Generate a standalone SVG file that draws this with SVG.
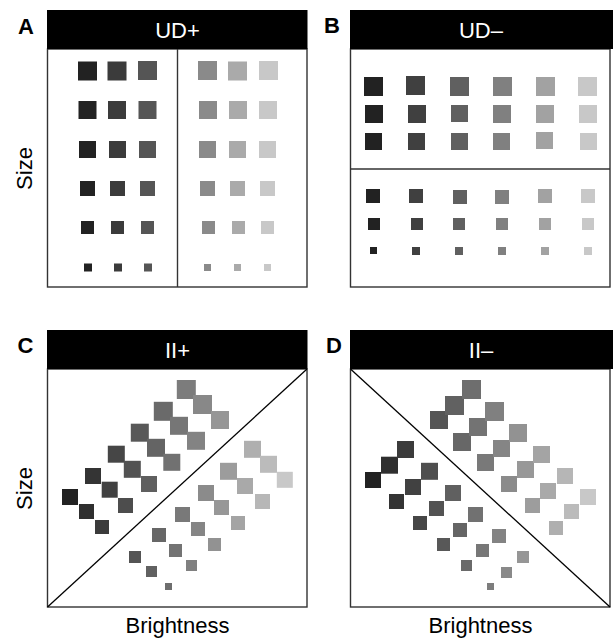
<svg xmlns="http://www.w3.org/2000/svg" width="613" height="638" viewBox="0 0 613 638">
  <style>
    .hdr { fill: #000; }
    .hdr-t { fill: #fff; font-family: "Liberation Sans", Arial, sans-serif; font-size: 22px; text-anchor: middle; }
    .tag { fill: #000; font-family: "Liberation Sans", Arial, sans-serif; font-size: 22px; font-weight: bold; }
    .axis { fill: #000; font-family: "Liberation Sans", Arial, sans-serif; font-size: 22px; text-anchor: middle; }
    .box { fill: #fff; stroke: #333; stroke-width: 1.4; }
    .rule { stroke: #333; stroke-width: 1.4; fill: none; }
    .diag { stroke: #000; stroke-width: 1.3; fill: none; }
    .a1 { fill: #222; } .a2 { fill: #3b3b3b; } .a3 { fill: #555; }
    .a4 { fill: #8a8a8a; } .a5 { fill: #aaa; } .a6 { fill: #c8c8c8; }
    .b1 { fill: #222; } .b2 { fill: #404040; } .b3 { fill: #606060; }
    .b4 { fill: #808080; } .b5 { fill: #a2a2a2; } .b6 { fill: #c8c8c8; }
  </style>

  <!-- Panel A: UD+ -->
  <g id="panelA">
    <rect class="box" x="47.5" y="49" width="259.5" height="238"/>
    <rect class="hdr" x="47" y="10" width="260.5" height="39"/>
    <text class="hdr-t" x="177.5" y="37.5">UD+</text>
    <text class="tag" x="18" y="33.5">A</text>
    <text class="axis" transform="translate(31.5,168.5) rotate(-90)">Size</text>
    <line class="rule" x1="177.5" y1="49" x2="177.5" y2="287"/>
    <g>
      <rect class="a1" x="78" y="61.5" width="19" height="19"/><rect class="a2" x="107.5" y="61.5" width="19" height="19"/><rect class="a3" x="138" y="61" width="19" height="19"/>
      <rect class="a4" x="198" y="61" width="19" height="19"/><rect class="a5" x="228" y="61.5" width="19" height="19"/><rect class="a6" x="259" y="61" width="19" height="19"/>
      <rect class="a1" x="78.5" y="101" width="18" height="18"/><rect class="a2" x="108" y="101" width="18" height="18"/><rect class="a3" x="138.5" y="101" width="18" height="18"/>
      <rect class="a4" x="199" y="101" width="18" height="18"/><rect class="a5" x="229" y="101" width="18" height="18"/><rect class="a6" x="259" y="101" width="18" height="18"/>
      <rect class="a1" x="79" y="141" width="17" height="17"/><rect class="a2" x="109" y="141" width="17" height="17"/><rect class="a3" x="139" y="141" width="17" height="17"/>
      <rect class="a4" x="199" y="141" width="17" height="17"/><rect class="a5" x="229" y="141" width="17" height="17"/><rect class="a6" x="259" y="141" width="17" height="17"/>
      <rect class="a1" x="80" y="181" width="15" height="15"/><rect class="a2" x="110" y="181" width="15" height="15"/><rect class="a3" x="140" y="181" width="15" height="15"/>
      <rect class="a4" x="200" y="181" width="15" height="15"/><rect class="a5" x="230" y="181" width="15" height="15"/><rect class="a6" x="260" y="181" width="15" height="15"/>
      <rect class="a1" x="81" y="221" width="13" height="13"/><rect class="a2" x="111" y="221" width="13" height="13"/><rect class="a3" x="141" y="221" width="13" height="13"/>
      <rect class="a4" x="202" y="221" width="13" height="13"/><rect class="a5" x="232" y="221" width="13" height="13"/><rect class="a6" x="261" y="221" width="13" height="13"/>
      <rect class="a1" x="84" y="263.5" width="8" height="8"/><rect class="a2" x="114" y="263.5" width="8" height="8"/><rect class="a3" x="144" y="263.5" width="8" height="8"/>
      <rect class="a4" x="204" y="264" width="7" height="7"/><rect class="a5" x="234" y="264" width="7" height="7"/><rect class="a6" x="264" y="264" width="7" height="7"/>
    </g>
  </g>

  <!-- Panel B: UD- -->
  <g id="panelB">
    <rect class="box" x="350.5" y="49" width="259.5" height="238"/>
    <rect class="hdr" x="350" y="10" width="263" height="39"/>
    <text class="hdr-t" x="481" y="37.5">UD–</text>
    <text class="tag" x="324" y="33">B</text>
    <line class="rule" x1="350.5" y1="169" x2="610" y2="169"/>
    <g>
      <rect class="b1" x="364" y="77" width="19" height="19"/><rect class="b2" x="406" y="76" width="19" height="19"/><rect class="b3" x="450" y="77" width="19" height="19"/>
      <rect class="b4" x="493" y="77" width="19" height="19"/><rect class="b5" x="536" y="77" width="19" height="19"/><rect class="b6" x="578" y="77" width="19" height="19"/>
      <rect class="b1" x="365" y="105" width="18" height="18"/><rect class="b2" x="408" y="105" width="18" height="18"/><rect class="b3" x="451" y="105" width="17" height="17"/>
      <rect class="b4" x="493" y="105" width="18" height="18"/><rect class="b5" x="536" y="105" width="18" height="18"/><rect class="b6" x="579" y="105" width="18" height="18"/>
      <rect class="b1" x="365" y="133" width="17" height="17"/><rect class="b2" x="408" y="133" width="17" height="17"/><rect class="b3" x="451" y="133" width="17" height="17"/>
      <rect class="b4" x="493" y="133" width="17" height="17"/><rect class="b5" x="536" y="132" width="17" height="17"/><rect class="b6" x="580" y="133" width="17" height="17"/>
      <rect class="b1" x="366" y="189" width="14" height="14"/><rect class="b2" x="409" y="189" width="14" height="14"/><rect class="b3" x="453" y="190" width="14" height="14"/>
      <rect class="b4" x="495" y="190" width="14" height="14"/><rect class="b5" x="538" y="189" width="14" height="14"/><rect class="b6" x="581" y="189" width="14" height="14"/>
      <rect class="b1" x="368" y="218" width="12" height="12"/><rect class="b2" x="411" y="218" width="12" height="12"/><rect class="b3" x="453" y="218" width="12" height="12"/>
      <rect class="b4" x="496" y="218" width="12" height="12"/><rect class="b5" x="539" y="218" width="12" height="12"/><rect class="b6" x="582" y="218" width="12" height="12"/>
      <rect class="b1" x="370" y="247" width="7" height="7"/><rect class="b2" x="412" y="247" width="8" height="8"/><rect class="b3" x="455" y="247" width="8" height="8"/>
      <rect class="b4" x="498" y="247" width="8" height="8"/><rect class="b5" x="541" y="247" width="8" height="8"/><rect class="b6" x="584" y="247" width="8" height="8"/>
    </g>
  </g>

  <!-- Panel C: II+ -->
  <g id="panelC">
    <rect class="box" x="47.5" y="369" width="259.5" height="238"/>
    <rect class="hdr" x="47" y="330" width="260.5" height="39"/>
    <text class="hdr-t" x="177.5" y="357.5">II+</text>
    <text class="tag" x="17.5" y="353">C</text>
    <text class="axis" transform="translate(31.5,488.5) rotate(-90)">Size</text>
    <text class="axis" x="177.5" y="633">Brightness</text>
    <line class="diag" x1="47.5" y1="607" x2="307" y2="369"/>
    <g>
      <rect x="62" y="489" width="16" height="16" fill="#222"/>
      <rect x="79" y="504" width="15" height="15" fill="#2f2f2f"/>
      <rect x="95" y="520" width="14" height="14" fill="#3b3b3b"/>
      <rect x="85" y="468" width="16" height="16" fill="#343434"/>
      <rect x="101.7" y="481.7" width="16" height="16" fill="#414141"/>
      <rect x="118" y="498" width="15" height="15" fill="#4d4d4d"/>
      <rect x="107.8" y="445.7" width="17" height="17" fill="#464646"/>
      <rect x="123.8" y="460.8" width="17" height="17" fill="#525252"/>
      <rect x="141" y="476" width="16" height="16" fill="#5f5f5f"/>
      <rect x="130.8" y="423.7" width="18" height="18" fill="#585858"/>
      <rect x="147" y="438.8" width="18" height="18" fill="#646464"/>
      <rect x="163.3" y="453.8" width="17" height="17" fill="#717171"/>
      <rect x="153.8" y="401.8" width="19" height="19" fill="#6a6a6a"/>
      <rect x="170" y="416.8" width="18" height="18" fill="#767676"/>
      <rect x="187" y="431.8" width="18" height="18" fill="#838383"/>
      <rect x="176.8" y="380" width="19" height="19" fill="#7c7c7c"/>
      <rect x="193" y="395" width="19" height="19" fill="#888"/>
      <rect x="211" y="411" width="18" height="18" fill="#969696"/>

      <rect x="244" y="440.8" width="17" height="17" fill="#afafaf"/>
      <rect x="260" y="455.8" width="17" height="17" fill="#bbb"/>
      <rect x="276.8" y="471.8" width="16" height="16" fill="#c8c8c8"/>
      <rect x="220" y="462.8" width="17" height="17" fill="#9c9c9c"/>
      <rect x="237" y="478" width="16" height="16" fill="#a9a9a9"/>
      <rect x="255" y="494" width="15" height="15" fill="#b7b7b7"/>
      <rect x="198" y="485" width="16" height="16" fill="#8b8b8b"/>
      <rect x="214" y="500" width="15" height="15" fill="#979797"/>
      <rect x="231" y="516" width="14" height="14" fill="#a4a4a4"/>
      <rect x="175" y="507" width="15" height="15" fill="#797979"/>
      <rect x="191" y="522" width="14" height="14" fill="#858585"/>
      <rect x="208" y="538" width="13" height="13" fill="#929292"/>
      <rect x="152" y="528" width="14" height="14" fill="#676767"/>
      <rect x="169" y="544" width="13" height="13" fill="#737373"/>
      <rect x="186" y="560" width="11" height="11" fill="#808080"/>
      <rect x="129" y="551" width="12" height="12" fill="#545454"/>
      <rect x="146" y="566" width="11" height="11" fill="#616161"/>
      <rect x="165" y="583" width="7" height="7" fill="#6e6e6e"/>
    </g>
  </g>

  <!-- Panel D: II- -->
  <g id="panelD">
    <rect class="box" x="350.5" y="369" width="259.5" height="238"/>
    <rect class="hdr" x="350" y="330" width="263" height="39"/>
    <text class="hdr-t" x="481" y="357.5">II–</text>
    <text class="tag" x="326" y="353">D</text>
    <text class="axis" x="480.5" y="633">Brightness</text>
    <line class="diag" x1="350.5" y1="369" x2="610" y2="607"/>
    <g>
      <rect x="430" y="411" width="18" height="18" fill="#555"/>
      <rect x="445" y="396" width="19" height="19" fill="#616161"/>
      <rect x="462" y="380" width="19" height="19" fill="#6e6e6e"/>
      <rect x="453" y="433" width="18" height="18" fill="#676767"/>
      <rect x="469" y="418" width="18" height="18" fill="#737373"/>
      <rect x="485" y="402" width="19" height="19" fill="#808080"/>
      <rect x="477" y="454" width="17" height="17" fill="#797979"/>
      <rect x="493" y="440" width="17" height="17" fill="#858585"/>
      <rect x="509" y="424" width="18" height="18" fill="#929292"/>
      <rect x="501" y="476" width="16" height="16" fill="#8b8b8b"/>
      <rect x="517" y="461" width="17" height="17" fill="#989898"/>
      <rect x="533" y="446" width="17" height="17" fill="#a4a4a4"/>
      <rect x="525" y="498" width="15" height="15" fill="#9d9d9d"/>
      <rect x="540" y="483" width="16" height="16" fill="#a9a9a9"/>
      <rect x="557" y="468" width="16" height="16" fill="#b6b6b6"/>
      <rect x="549" y="521" width="14" height="14" fill="#afafaf"/>
      <rect x="564" y="504" width="15" height="15" fill="#bbb"/>
      <rect x="580" y="489" width="16" height="16" fill="#c8c8c8"/>

      <rect x="365" y="472" width="16" height="16" fill="#222"/>
      <rect x="381" y="456.7" width="17" height="17" fill="#2f2f2f"/>
      <rect x="397" y="441" width="17" height="17" fill="#3b3b3b"/>
      <rect x="389" y="494" width="15" height="15" fill="#343434"/>
      <rect x="405" y="479" width="16" height="16" fill="#414141"/>
      <rect x="421" y="462.8" width="17" height="17" fill="#4e4e4e"/>
      <rect x="413" y="516" width="14" height="14" fill="#464646"/>
      <rect x="429" y="501" width="15" height="15" fill="#535353"/>
      <rect x="445" y="485" width="16" height="16" fill="#606060"/>
      <rect x="437" y="538" width="13" height="13" fill="#585858"/>
      <rect x="453" y="523" width="14" height="14" fill="#656565"/>
      <rect x="468" y="507" width="15" height="15" fill="#717171"/>
      <rect x="461" y="560" width="11" height="11" fill="#6a6a6a"/>
      <rect x="476" y="544" width="13" height="13" fill="#777"/>
      <rect x="492" y="529" width="14" height="14" fill="#838383"/>
      <rect x="487" y="583" width="7" height="7" fill="#7d7d7d"/>
      <rect x="501" y="567" width="11" height="11" fill="#898989"/>
      <rect x="517" y="551" width="12" height="12" fill="#969696"/>
    </g>
  </g>
</svg>
